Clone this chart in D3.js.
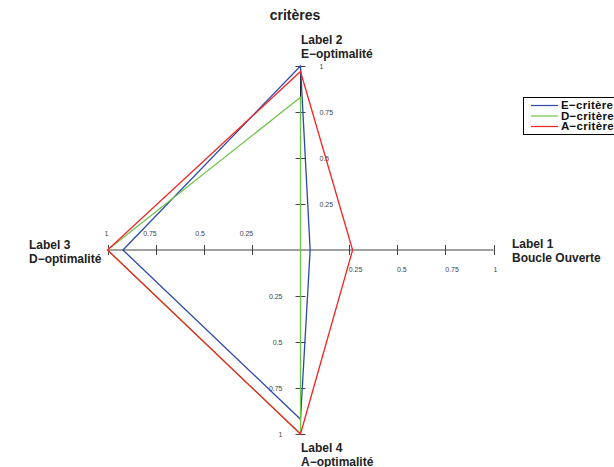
<!DOCTYPE html>
<html>
<head>
<meta charset="utf-8">
<script src="https://cdn.jsdelivr.net/npm/d3@7"></script>
<style>
  html, body { margin: 0; padding: 0; background: #fff; }
  svg { display: block; font-family: "Liberation Sans", Arial, sans-serif; }
</style>
</head>
<body>
<svg id="chart" width="614" height="467"></svg>
<script>
const categories = ["Label 1", "Label 2", "Label 3", "Label 4"];
const subtitles = ["Boucle Ouverte", "E−optimalité", "D−optimalité", "A−optimalité"];
const seriesNames = ["E−critère", "D−critère", "A−critère"];
const eValues = [0.05, 1, 0.92, 0.92];
const dValues = [0, 0.83, 1, 1];
const aValues = [0.27, 0.97, 1, 1];
const tickValues = [0.25, 0.5, 0.75, 1];
const tickLabels = ["0.25", "0.5", "0.75", "1"];
const titleText = "critères";

const colors = ["#2b48a8", "#6cc447", "#f22424"];
const series = [eValues, dValues, aValues];

const svg = d3.select("#chart");
const cx = 300.5, cy = 250;
const rx = d3.scaleLinear().domain([0, 1]).range([0, 193]);
const ry = d3.scaleLinear().domain([0, 1]).range([0, 184]);
const dirs = [[1, 0], [0, -1], [-1, 0], [0, 1]];
const pt = (i, v) => [cx + dirs[i][0] * rx(v), cy + dirs[i][1] * ry(v)];

// title
svg.append("text").attr("x", 295).attr("y", 20).attr("text-anchor", "middle")
  .attr("font-size", 14).attr("font-weight", "bold").attr("fill", "#222").text(titleText);

// axes
const axG = svg.append("g");
dirs.forEach((d, i) => {
  const end = pt(i, 1);
  axG.append("line").attr("x1", cx).attr("y1", cy).attr("x2", end[0]).attr("y2", end[1])
    .attr("stroke", i % 2 === 0 ? "#444" : "#222").attr("stroke-width", 1);
  tickValues.forEach((t, k) => {
    const p = pt(i, t);
    if (d[1] === 0) {
      axG.append("line").attr("x1", Math.round(p[0]) + 0.5).attr("x2", Math.round(p[0]) + 0.5)
        .attr("y1", cy - 5).attr("y2", cy + 5).attr("stroke", "#444");
    } else {
      axG.append("line").attr("y1", Math.round(p[1]) + 0.5).attr("y2", Math.round(p[1]) + 0.5)
        .attr("x1", cx - 5).attr("x2", cx + 5).attr("stroke", "#444");
    }
    const lab = axG.append("text").attr("font-size", 7).attr("fill", "#444").text(tickLabels[k]);
    if (i === 0) lab.attr("x", p[0]).attr("y", cy + 22).attr("text-anchor", "start");
    if (i === 1) lab.attr("x", cx + 19).attr("y", p[1] + 2.5).attr("text-anchor", "start");
    if (i === 2) lab.attr("x", p[0] + 1).attr("y", cy - 14).attr("text-anchor", "end");
    if (i === 3) lab.attr("x", cx - 18).attr("y", p[1] + 2.5).attr("text-anchor", "end");
  });
});

// category labels
const catPos = [[512, 248], [301, 44], [29, 249], [301, 452]];
categories.forEach((c, i) => {
  const t = svg.append("text").attr("font-size", 12).attr("font-weight", "bold").attr("fill", "#222");
  t.append("tspan").attr("x", catPos[i][0]).attr("y", catPos[i][1]).text(c);
  t.append("tspan").attr("x", catPos[i][0]).attr("y", catPos[i][1] + 13.5).text(subtitles[i]);
});

// series polygons
const line = d3.line().curve(d3.curveLinearClosed);
series.forEach((vals, s) => {
  svg.append("path")
    .attr("d", line(vals.map((v, i) => pt(i, v))))
    .attr("fill", "none").attr("stroke", colors[s]).attr("stroke-width", 1.3)
    .attr("stroke-linejoin", "miter");
});

// legend
const lg = svg.append("g");
lg.append("rect").attr("x", 523.5).attr("y", 97.5).attr("width", 110).attr("height", 37)
  .attr("fill", "#fff").attr("stroke", "#000").attr("stroke-width", 1);
seriesNames.forEach((n, s) => {
  const y = 105.5 + s * 10.5;
  lg.append("line").attr("x1", 531).attr("x2", 558).attr("y1", y).attr("y2", y)
    .attr("stroke", colors[s]).attr("stroke-width", 1.2);
  lg.append("text").attr("x", 561).attr("y", y + 3.9).attr("font-size", 11.5)
    .attr("font-weight", "bold").attr("fill", "#111").attr("letter-spacing", 0.3).text(n);
});
</script>
</body>
</html>
